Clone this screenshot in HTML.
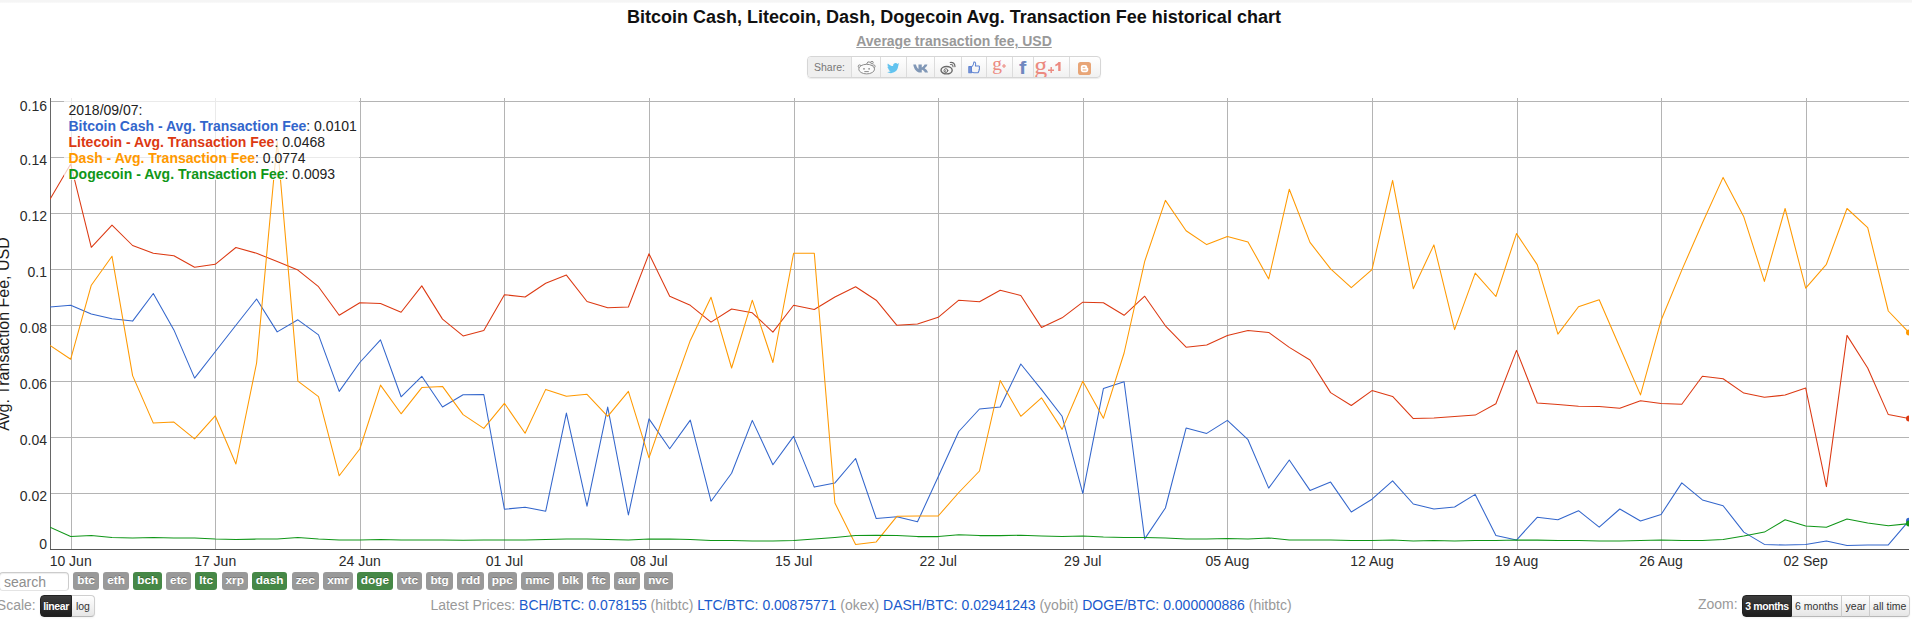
<!DOCTYPE html>
<html><head><meta charset="utf-8"><title>Avg. Transaction Fee chart</title>
<style>
html,body{margin:0;padding:0;background:#fff;}
body{width:1912px;height:619px;overflow:hidden;position:relative;font-family:"Liberation Sans",sans-serif;color:#222;}
.abs{position:absolute;}
#topbar{position:absolute;left:0;top:0;width:1912px;height:3px;background:linear-gradient(#f5f5f5 0,#f5f5f5 2px,#f6f6f6 2px,#fbfbfb 3px);}
#title{position:absolute;left:0;width:1908px;top:6px;text-align:center;font-weight:bold;font-size:18px;line-height:22px;color:#111;white-space:nowrap;}
#sub{position:absolute;left:0;width:1908px;top:32px;text-align:center;font-weight:bold;font-size:14px;line-height:18px;color:#999;white-space:nowrap;}
#sub span{text-decoration:underline;}
#share{position:absolute;left:807px;top:56px;width:292px;height:20px;border:1px solid #d6d6d6;border-radius:4px;background:linear-gradient(#ffffff,#f1f1f1);box-shadow:0 1px 1px rgba(0,0,0,0.08);overflow:hidden;}
#share .c{position:absolute;top:0;height:20px;border-right:1px solid #dcdcdc;}
#share .lbl{left:0;width:43px;background:#efefef;font-size:10.5px;line-height:20px;color:#777;text-align:center;}
#share svg{position:absolute;}
.gl{line-height:22px;height:22px;white-space:nowrap;}
.yl{position:absolute;left:0;width:47px;text-align:right;font-size:14px;line-height:16px;color:#2b2b2b;white-space:nowrap;}
.xl{position:absolute;top:553px;width:60px;text-align:center;font-size:14px;line-height:16px;color:#2b2b2b;white-space:nowrap;}
#ylab{position:absolute;left:-96px;top:324px;width:200px;height:20px;line-height:20px;font-size:16px;text-align:center;transform:rotate(-90deg);transform-origin:50% 50%;color:#1c1c1c;white-space:nowrap;}
#legend{position:absolute;left:64px;top:98px;width:295px;height:82px;background:rgba(255,255,255,0.72);font-size:14px;line-height:16px;padding:4px 0 0 4.5px;box-sizing:border-box;white-space:nowrap;color:#222;}
#legend b{font-weight:bold;}
.tag{position:absolute;top:572.2px;height:17.5px;line-height:17.8px;font-size:11.8px;font-weight:bold;color:#fff;background:#999999;border-radius:3px;text-align:center;text-shadow:0 -1px 0 rgba(0,0,0,0.25);white-space:nowrap;}
.tag.g{background:#468847;}
#search{position:absolute;left:-1px;top:572px;width:68px;height:17px;border:1px solid #ccc;border-radius:4px;box-shadow:inset 0 1px 1px rgba(0,0,0,0.075);font-size:14px;line-height:19px;color:#8e8e8e;border-bottom-color:#e4e4e4;padding-left:4px;box-sizing:content-box;width:64px;}
.gray{color:#999;}
#scale{position:absolute;left:-3.2px;top:596px;font-size:14px;line-height:18px;color:#999;white-space:nowrap;}
#prices{position:absolute;left:430.4px;top:596px;font-size:14px;line-height:18px;color:#999;white-space:nowrap;}
#prices a{color:#1a5acc;text-decoration:none;}
#zoom{position:absolute;left:1698px;top:595px;font-size:14px;line-height:18px;color:#999;white-space:nowrap;}
.btn{position:absolute;top:595px;height:19.5px;line-height:20.2px;font-size:10.5px;color:#333;text-align:center;border:1px solid #cfcfcf;border-bottom-color:#b8b8b8;background:linear-gradient(#ffffff,#e6e6e6);box-sizing:content-box;white-space:nowrap;box-shadow:0 1px 2px rgba(0,0,0,0.05);}
.btn.on{background:linear-gradient(#3c3c3c,#1e1e1e);color:#fff;font-weight:bold;letter-spacing:-0.4px;border-color:#222;text-shadow:0 -1px 0 rgba(0,0,0,0.25);}
.rl{border-radius:4px 0 0 4px;}
.rr{border-radius:0 4px 4px 0;}
</style></head>
<body>
<div id="topbar"></div>
<div id="title">Bitcoin Cash, Litecoin, Dash, Dogecoin Avg. Transaction Fee historical chart</div>
<div id="sub"><span>Average transaction fee, USD</span></div>

<div id="share">
<div class="c lbl">Share:</div>
<div class="c" style="left:44px;width:28px"></div>
<div class="c" style="left:73px;width:25px"></div>
<div class="c" style="left:99px;width:27px"></div>
<div class="c" style="left:127px;width:26px"></div>
<div class="c" style="left:154px;width:24px"></div>
<div class="c" style="left:179px;width:25px"></div>
<div class="c" style="left:205px;width:20px"></div>
<div class="c" style="left:226px;width:35px"></div>
<!-- reddit -->
<svg style="left:49px;top:3px" width="19" height="15" viewBox="0 0 19 15"><g fill="none" stroke="#8c8c8c" stroke-width="1"><circle cx="2.600" cy="6.300" r="1.400"/><circle cx="16.700" cy="6.300" r="1.400"/><ellipse cx="9.650" cy="9.100" rx="7.900" ry="4.800" fill="#fbfbfb"/><path d="M9.500 4.200 L10.900 1.900 L13.900 2.300"/><circle cx="15" cy="2.600" r="1.250"/><path d="M7.300 11.600 H11.800"/></g><circle cx="7" cy="8.800" r="0.900" fill="#8c8c8c"/><circle cx="12.100" cy="8.800" r="0.900" fill="#8c8c8c"/></svg>
<!-- twitter -->
<svg style="left:78.700px;top:6.300px" width="12.500" height="10.400" viewBox="0 0 24 20"><path fill="#62c3ef" d="M24 2.4c-.9.4-1.8.7-2.8.8 1-.6 1.800-1.600 2.200-2.700-1 .6-2 1-3.100 1.200C19.300.700 18 0 16.600 0c-2.700 0-4.900 2.200-4.900 4.900 0 .4 0 .8.100 1.100C7.700 5.800 4.100 3.900 1.700.900 1.200 1.700 1 2.500 1 3.400c0 1.700.9 3.200 2.200 4.100-.8 0-1.600-.2-2.200-.6v.1c0 2.400 1.700 4.400 3.900 4.800-.4.100-.8.200-1.300.2-.3 0-.6 0-.9-.1.600 2 2.400 3.400 4.600 3.400-1.700 1.300-3.800 2.100-6.100 2.100-.4 0-.8 0-1.200-.1 2.200 1.400 4.800 2.200 7.500 2.200 9.100 0 14-7.500 14-14v-.6c1-.7 1.800-1.600 2.500-2.500z"/></svg>
<!-- vk -->
<svg style="left:104.500px;top:7px" width="17" height="9" viewBox="0 0 19 10"><path fill="#8097b6" d="M0.300 0.500 H3.300 C3.900 2.600 4.900 4.600 6.100 5.600 V0.500 H9.800 V3.900 C11 3.500 12.300 1.800 12.900 0.500 H16.100 C15.700 2.200 14.100 3.900 13 4.800 C14.300 5.500 16.100 7.300 16.800 9.500 H13.300 C12.700 7.900 11.300 6.700 9.800 6.400 V9.500 H8.300 C4.100 9.500 1.100 5.800 0.300 0.500 Z"/></svg>
<!-- weibo -->
<svg style="left:132px;top:4px" width="17" height="14" viewBox="0 0 17 14"><g fill="none" stroke="#6a6a6a" stroke-linecap="round"><ellipse cx="6.600" cy="9.200" rx="5.600" ry="3.700" stroke-width="1.400"/><circle cx="5.900" cy="9.600" r="1.900" stroke-width="1"/><path d="M10.600 3.500 Q12.900 3.300 13 5.700" stroke-width="1.100"/><path d="M10.200 1.500 Q14.800 1.100 15 5.600" stroke-width="1.200"/></g><circle cx="5.500" cy="9.900" r="0.700" fill="#6a6a6a"/></svg>
<!-- thumbs up -->
<svg style="left:159.600px;top:4.300px" width="12.800" height="13" viewBox="0 0 16 15" preserveAspectRatio="none"><g fill="none" stroke="#5d82d1" stroke-width="1.250" stroke-linejoin="round"><rect x="1" y="6.500" width="3.200" height="7" fill="#7d97d8"/><path d="M4.200 7.200 C6.300 5.800 7.200 3.600 7.400 1.200 C9.300 0.700 10.100 2.600 9.200 5.800 H13.500 C14.800 5.800 14.900 7.500 13.900 7.800 C14.900 8.300 14.700 9.800 13.600 10 C14.300 10.700 13.900 11.900 13 12 C13.400 12.800 12.800 13.500 11.900 13.500 H7.500 C6.300 13.500 5.300 13.100 4.200 12.700 Z"/></g></svg>
<!-- g+ small -->
<div class="abs gl" style="left:184.300px;top:-4.300px;font-family:'Liberation Serif',serif;font-size:19.500px;color:#ec8a80;">g</div>
<svg style="left:193.700px;top:7px" width="4" height="4" viewBox="0 0 4 4"><path d="M0 2H4M2 0V4" stroke="#ec8a80" stroke-width="1.100" fill="none"/></svg>
<!-- facebook -->
<div class="abs gl" style="left:210.500px;top:0.300px;font-size:17.500px;font-weight:bold;color:#7087bf;transform:scaleX(1.250);transform-origin:0 0;">f</div>
<!-- g+1 -->
<div class="abs gl" style="left:226.200px;top:-2.200px;font-family:'Liberation Serif',serif;font-size:26px;color:#ec8a80;">g</div>
<svg style="left:239.500px;top:9.500px" width="6.400" height="6.400" viewBox="0 0 6.400 6.400"><path d="M0 3.200H6.400M3.200 0V6.400" stroke="#ec8a80" stroke-width="1.400" fill="none"/></svg>
<svg style="left:247.300px;top:5px" width="6" height="9.200" viewBox="0 0 6 9.200"><path d="M3.400 0 H5.600 V9.200 H3.200 V3 C2.400 3.600 1.500 4 0.300 4.300 V2.500 C1.700 2 2.800 1.100 3.400 0 Z" fill="#ec8a80"/></svg>
<!-- blogger -->
<svg style="left:270px;top:4.700px" width="13.100" height="13.100" viewBox="0 0 13 13"><rect x="0" y="0" width="13" height="13" rx="2.600" fill="#e8a577"/><path fill="#fff" d="M4.900 3 H7 C8.300 3 9.200 3.900 9.200 5 V5.500 C9.200 5.800 9.400 5.900 9.700 5.900 C10 5.900 10.200 6.100 10.200 6.400 V8 C10.200 9.200 9.300 10.100 8.100 10.100 H4.900 C3.700 10.100 2.800 9.200 2.800 8 V5.100 C2.800 3.900 3.700 3 4.900 3 Z M5 4.700 C4.600 4.700 4.400 4.900 4.400 5.200 C4.400 5.500 4.600 5.700 5 5.700 H6.700 C7.100 5.700 7.300 5.500 7.300 5.200 C7.300 4.900 7.100 4.700 6.700 4.700 Z M5 7.400 C4.600 7.400 4.400 7.600 4.400 7.900 C4.400 8.200 4.600 8.400 5 8.400 H8 C8.400 8.400 8.600 8.200 8.600 7.900 C8.600 7.600 8.400 7.400 8 7.400 Z"/></svg>
</div>

<svg class="abs" style="left:0;top:0" width="1912" height="619" viewBox="0 0 1912 619">
<line x1="51" y1="493.5" x2="1909" y2="493.5" stroke="#b4b4b4" stroke-width="1"/>
<line x1="51" y1="437.5" x2="1909" y2="437.5" stroke="#b4b4b4" stroke-width="1"/>
<line x1="51" y1="381.5" x2="1909" y2="381.5" stroke="#b4b4b4" stroke-width="1"/>
<line x1="51" y1="325.5" x2="1909" y2="325.5" stroke="#b4b4b4" stroke-width="1"/>
<line x1="51" y1="269.5" x2="1909" y2="269.5" stroke="#b4b4b4" stroke-width="1"/>
<line x1="51" y1="213.5" x2="1909" y2="213.5" stroke="#b4b4b4" stroke-width="1"/>
<line x1="51" y1="157.5" x2="1909" y2="157.5" stroke="#b4b4b4" stroke-width="1"/>
<line x1="51" y1="101.5" x2="1909" y2="101.5" stroke="#b4b4b4" stroke-width="1"/>
<line x1="71.5" y1="98" x2="71.5" y2="549" stroke="#b4b4b4" stroke-width="1"/>
<line x1="215.5" y1="98" x2="215.5" y2="549" stroke="#b4b4b4" stroke-width="1"/>
<line x1="360.5" y1="98" x2="360.5" y2="549" stroke="#b4b4b4" stroke-width="1"/>
<line x1="504.5" y1="98" x2="504.5" y2="549" stroke="#b4b4b4" stroke-width="1"/>
<line x1="649.5" y1="98" x2="649.5" y2="549" stroke="#b4b4b4" stroke-width="1"/>
<line x1="794.5" y1="98" x2="794.5" y2="549" stroke="#b4b4b4" stroke-width="1"/>
<line x1="938.5" y1="98" x2="938.5" y2="549" stroke="#b4b4b4" stroke-width="1"/>
<line x1="1083.5" y1="98" x2="1083.5" y2="549" stroke="#b4b4b4" stroke-width="1"/>
<line x1="1227.5" y1="98" x2="1227.5" y2="549" stroke="#b4b4b4" stroke-width="1"/>
<line x1="1372.5" y1="98" x2="1372.5" y2="549" stroke="#b4b4b4" stroke-width="1"/>
<line x1="1517.5" y1="98" x2="1517.5" y2="549" stroke="#b4b4b4" stroke-width="1"/>
<line x1="1661.5" y1="98" x2="1661.5" y2="549" stroke="#b4b4b4" stroke-width="1"/>
<line x1="1806.5" y1="98" x2="1806.5" y2="549" stroke="#b4b4b4" stroke-width="1"/>
<line x1="50.5" y1="98" x2="50.5" y2="550" stroke="#666" stroke-width="1"/>
<line x1="50" y1="549.5" x2="1909" y2="549.5" stroke="#555" stroke-width="1"/>
<g clip-path="url(#cp)">
<clipPath id="cp"><rect x="50" y="98" width="1859" height="452"/></clipPath>
<polyline points="50.0,307.0 70.7,305.3 91.3,314.0 112.0,318.8 132.6,321.1 153.3,293.5 173.9,329.9 194.6,378.1 215.2,351.7 235.9,325.3 256.6,299.0 277.2,331.9 297.9,319.8 318.5,334.9 339.2,391.4 359.8,362.5 380.5,339.9 401.1,396.8 421.8,376.3 442.5,407.0 463.1,394.7 483.8,394.5 504.4,509.2 525.1,507.2 545.7,511.2 566.4,413.1 587.0,506.2 607.7,407.1 628.4,515.0 649.0,418.9 669.7,448.7 690.3,420.1 711.0,501.2 731.6,473.3 752.3,420.4 772.9,464.8 793.6,436.4 814.3,487.1 834.9,482.9 855.6,458.5 876.2,518.5 896.9,516.8 917.5,521.8 938.2,476.8 958.8,431.5 979.5,409.0 1000.2,407.1 1020.8,364.0 1041.5,389.6 1062.1,416.3 1082.8,493.4 1103.4,388.6 1124.1,381.8 1144.7,538.9 1165.4,508.0 1186.1,428.1 1206.7,433.4 1227.4,420.4 1248.0,439.7 1268.7,488.1 1289.3,460.0 1310.0,490.4 1330.6,482.1 1351.3,512.0 1372.0,499.2 1392.6,480.9 1413.3,504.0 1433.9,509.0 1454.6,507.0 1475.2,494.4 1495.9,535.6 1516.5,540.1 1537.2,517.3 1557.9,519.8 1578.5,510.7 1599.2,527.1 1619.8,509.0 1640.5,521.0 1661.1,514.5 1681.8,482.9 1702.4,499.9 1723.1,505.7 1743.8,532.1 1764.4,544.4 1785.1,545.1 1805.7,544.4 1826.4,541.1 1847.0,545.4 1867.7,544.9 1888.3,544.9 1909.0,520.7" fill="none" stroke="#3366cc" stroke-width="1.05" stroke-linejoin="round"/><circle cx="1909.0" cy="520.7" r="3" fill="#3366cc"/>
<polyline points="50.0,199.3 70.7,164.1 91.3,247.3 112.0,225.1 132.6,245.5 153.3,253.3 173.9,255.8 194.6,267.3 215.2,264.3 235.9,247.5 256.6,253.3 277.2,261.6 297.9,270.1 318.5,286.7 339.2,315.3 359.8,302.7 380.5,303.5 401.1,312.3 421.8,285.9 442.5,319.1 463.1,335.9 483.8,330.4 504.4,294.7 525.1,297.0 545.7,283.2 566.4,275.1 587.0,301.5 607.7,307.8 628.4,307.0 649.0,253.8 669.7,296.2 690.3,305.3 711.0,322.1 731.6,309.0 752.3,312.8 772.9,332.1 793.6,305.3 814.3,309.5 834.9,297.0 855.6,286.7 876.2,300.2 896.9,325.3 917.5,324.1 938.2,317.3 958.8,300.2 979.5,301.8 1000.2,290.2 1020.8,295.5 1041.5,327.4 1062.1,317.8 1082.8,302.2 1103.4,302.7 1124.1,315.3 1144.7,296.2 1165.4,325.8 1186.1,347.2 1206.7,344.9 1227.4,335.4 1248.0,330.4 1268.7,332.4 1289.3,347.4 1310.0,360.0 1330.6,392.6 1351.3,405.5 1372.0,390.6 1392.6,396.4 1413.3,418.6 1433.9,418.1 1454.6,416.6 1475.2,415.1 1495.9,403.8 1516.5,350.4 1537.2,403.0 1557.9,404.5 1578.5,406.3 1599.2,406.5 1619.8,408.3 1640.5,400.8 1661.1,403.5 1681.8,404.3 1702.4,376.3 1723.1,378.8 1743.8,393.1 1764.4,397.3 1785.1,395.1 1805.7,388.1 1826.4,486.6 1847.0,335.4 1867.7,368.0 1888.3,414.6 1909.0,418.5" fill="none" stroke="#dc3912" stroke-width="1.05" stroke-linejoin="round"/><circle cx="1909.0" cy="418.5" r="3" fill="#dc3912"/>
<polyline points="50.0,345.4 70.7,359.2 91.3,285.2 112.0,256.3 132.6,375.6 153.3,423.1 173.9,422.1 194.6,438.9 215.2,415.8 235.9,464.0 256.6,363.0 277.2,141.5 297.9,381.1 318.5,396.7 339.2,475.8 359.8,449.0 380.5,385.1 401.1,413.8 421.8,387.6 442.5,386.4 463.1,414.6 483.8,428.4 504.4,403.3 525.1,433.2 545.7,389.4 566.4,396.3 587.0,394.3 607.7,416.3 628.4,391.4 649.0,457.8 669.7,398.0 690.3,340.4 711.0,297.2 731.6,368.0 752.3,300.2 772.9,362.5 793.6,253.3 814.3,253.3 834.9,503.0 855.6,544.4 876.2,541.9 896.9,516.3 917.5,516.0 938.2,516.0 958.8,492.5 979.5,471.0 1000.2,380.6 1020.8,416.3 1041.5,397.8 1062.1,429.4 1082.8,381.3 1103.4,418.3 1124.1,353.0 1144.7,261.3 1165.4,200.4 1186.1,230.8 1206.7,244.6 1227.4,236.4 1248.0,241.9 1268.7,278.9 1289.3,189.2 1310.0,242.4 1330.6,268.9 1351.3,287.7 1372.0,269.6 1392.6,180.4 1413.3,288.7 1433.9,244.9 1454.6,329.6 1475.2,273.1 1495.9,296.5 1516.5,233.6 1537.2,264.6 1557.9,334.1 1578.5,306.8 1599.2,299.7 1619.8,347.2 1640.5,394.9 1661.1,320.3 1681.8,270.1 1702.4,223.0 1723.1,177.4 1743.8,216.8 1764.4,281.4 1785.1,208.5 1805.7,288.2 1826.4,264.3 1847.0,208.5 1867.7,227.6 1888.3,311.0 1909.0,332.6" fill="none" stroke="#ff9900" stroke-width="1.05" stroke-linejoin="round"/><circle cx="1909.0" cy="332.6" r="3" fill="#ff9900"/>
<polyline points="50.0,527.3 70.7,536.4 91.3,535.6 112.0,537.4 132.6,537.9 153.3,537.6 173.9,538.1 194.6,537.9 215.2,538.9 235.9,539.4 256.6,539.1 277.2,538.9 297.9,537.6 318.5,539.1 339.2,539.9 359.8,539.9 380.5,539.6 401.1,540.1 421.8,539.9 442.5,540.1 463.1,540.2 483.8,540.1 504.4,539.9 525.1,539.9 545.7,539.6 566.4,538.9 587.0,539.1 607.7,539.6 628.4,539.9 649.0,539.1 669.7,539.1 690.3,539.6 711.0,540.4 731.6,540.4 752.3,540.9 772.9,540.9 793.6,540.6 814.3,539.1 834.9,537.4 855.6,535.6 876.2,535.3 896.9,535.6 917.5,536.6 938.2,536.6 958.8,534.8 979.5,535.6 1000.2,535.6 1020.8,535.3 1041.5,535.9 1062.1,536.4 1082.8,535.9 1103.4,537.1 1124.1,537.6 1144.7,537.4 1165.4,537.9 1186.1,538.9 1206.7,538.9 1227.4,538.4 1248.0,538.9 1268.7,537.9 1289.3,539.9 1310.0,540.1 1330.6,539.9 1351.3,540.6 1372.0,540.4 1392.6,540.1 1413.3,541.1 1433.9,540.4 1454.6,540.9 1475.2,540.4 1495.9,540.6 1516.5,540.1 1537.2,540.1 1557.9,540.4 1578.5,540.4 1599.2,540.9 1619.8,540.9 1640.5,540.4 1661.1,540.1 1681.8,540.6 1702.4,540.4 1723.1,539.6 1743.8,536.1 1764.4,532.1 1785.1,519.8 1805.7,526.1 1826.4,527.3 1847.0,519.0 1867.7,523.0 1888.3,525.8 1909.0,523.6" fill="none" stroke="#109618" stroke-width="1.05" stroke-linejoin="round"/><circle cx="1909.0" cy="523.6" r="3" fill="#109618"/>
</g>
</svg>

<div class="yl" style="top:536.0px">0</div>
<div class="yl" style="top:487.5px">0.02</div>
<div class="yl" style="top:431.5px">0.04</div>
<div class="yl" style="top:375.5px">0.06</div>
<div class="yl" style="top:319.5px">0.08</div>
<div class="yl" style="top:263.6px">0.1</div>
<div class="yl" style="top:207.6px">0.12</div>
<div class="yl" style="top:151.6px">0.14</div>
<div class="yl" style="top:97.5px">0.16</div>
<div class="xl" style="left:40.7px">10 Jun</div>
<div class="xl" style="left:185.2px">17 Jun</div>
<div class="xl" style="left:329.8px">24 Jun</div>
<div class="xl" style="left:474.4px">01 Jul</div>
<div class="xl" style="left:619.0px">08 Jul</div>
<div class="xl" style="left:763.6px">15 Jul</div>
<div class="xl" style="left:908.2px">22 Jul</div>
<div class="xl" style="left:1052.8px">29 Jul</div>
<div class="xl" style="left:1197.4px">05 Aug</div>
<div class="xl" style="left:1342.0px">12 Aug</div>
<div class="xl" style="left:1486.5px">19 Aug</div>
<div class="xl" style="left:1631.1px">26 Aug</div>
<div class="xl" style="left:1775.7px">02 Sep</div>
<div id="ylab">Avg. Transaction Fee, USD</div>

<div id="legend">2018/09/07:<br><b style="color:#3366cc">Bitcoin Cash - Avg. Transaction Fee</b>: 0.0101<br><b style="color:#dc3912">Litecoin - Avg. Transaction Fee</b>: 0.0468<br><b style="color:#ff9900">Dash - Avg. Transaction Fee</b>: 0.0774<br><b style="color:#109618">Dogecoin - Avg. Transaction Fee</b>: 0.0093</div>

<div id="search">search</div>
<span class="tag" style="left:73.2px;width:25.7px">btc</span>
<span class="tag" style="left:103.3px;width:25.6px">eth</span>
<span class="tag g" style="left:133.3px;width:28.9px">bch</span>
<span class="tag" style="left:166.2px;width:24.9px">etc</span>
<span class="tag g" style="left:195.2px;width:21.9px">ltc</span>
<span class="tag" style="left:221.5px;width:26.4px">xrp</span>
<span class="tag g" style="left:251.9px;width:35.5px">dash</span>
<span class="tag" style="left:291.5px;width:27.4px">zec</span>
<span class="tag" style="left:323.0px;width:30.0px">xmr</span>
<span class="tag g" style="left:357.0px;width:35.9px">doge</span>
<span class="tag" style="left:397.3px;width:24.5px">vtc</span>
<span class="tag" style="left:426.2px;width:26.8px">btg</span>
<span class="tag" style="left:457.3px;width:26.7px">rdd</span>
<span class="tag" style="left:488.0px;width:28.7px">ppc</span>
<span class="tag" style="left:521.0px;width:33.0px">nmc</span>
<span class="tag" style="left:558.0px;width:25.0px">blk</span>
<span class="tag" style="left:587.3px;width:22.7px">ftc</span>
<span class="tag" style="left:614.4px;width:25.3px">aur</span>
<span class="tag" style="left:644.0px;width:28.6px">nvc</span>

<div id="scale">Scale:</div>
<div class="btn on rl" style="left:40.3px;width:29.6px">linear</div>
<div class="btn rr" style="left:71.9px;width:22px;border-left:none">log</div>

<div id="prices">Latest Prices: <a>BCH/BTC: 0.078155</a> (hitbtc) <a>LTC/BTC: 0.00875771</a> (okex) <a>DASH/BTC: 0.02941243</a> (yobit) <a>DOGE/BTC: 0.000000886</a> (hitbtc)</div>

<div id="zoom">Zoom:</div>
<div class="btn on rl" style="left:1742px;width:48px">3 months</div>
<div class="btn" style="left:1792px;width:49.4px;border-left:none">6 months</div>
<div class="btn" style="left:1842.4px;width:26.9px;border-left:none">year</div>
<div class="btn rr" style="left:1870.3px;width:38.9px;border-left:none">all time</div>
</body></html>
